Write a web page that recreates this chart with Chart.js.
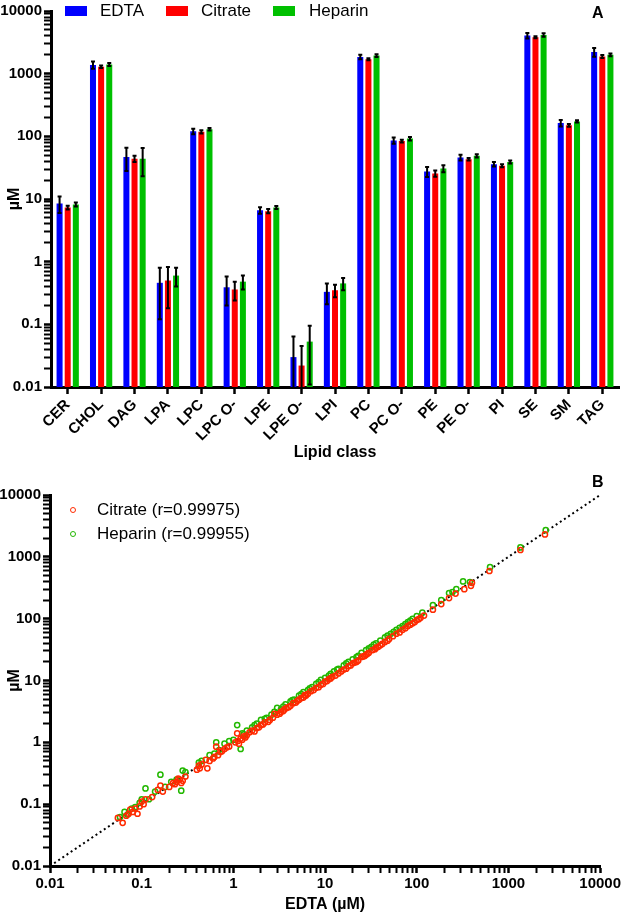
<!DOCTYPE html>
<html>
<head>
<meta charset="utf-8">
<script src="https://cdn.jsdelivr.net/npm/chart.js@4.4.1/dist/chart.umd.min.js"></script>
<style>
  body { margin: 0; background: #fff; font-family: "Liberation Sans", Arial, sans-serif; }
  #wrap { position: relative; width: 623px; height: 914px; background: #fff; overflow: hidden; }
  .box { position: absolute; }
  .leg { position: absolute; font-size: 17px; color: #000; line-height: 20px; white-space: nowrap; }
  .sw { position: absolute; width: 22px; height: 10px; }
  .dot { position: absolute; width: 4px; height: 4px; border-radius: 50%; border: 1.5px solid; }
  .panel { position: absolute; font-weight: bold; font-size: 16px; color: #000; }
</style>
</head>
<body>
<div id="wrap">
  <div class="box" style="left:0;top:0"><canvas id="barChart" width="623" height="470"></canvas></div>
  <div class="box" style="left:0;top:470px"><canvas id="scatterChart" width="623" height="444"></canvas></div>

  <div class="sw" style="left:65px;top:6px;background:#0000ff"></div>
  <div class="leg" style="left:100px;top:1px">EDTA</div>
  <div class="sw" style="left:166px;top:6px;background:#ff0000"></div>
  <div class="leg" style="left:201px;top:1px">Citrate</div>
  <div class="sw" style="left:273px;top:6px;background:#00c000"></div>
  <div class="leg" style="left:309px;top:1px">Heparin</div>
  <div class="panel" style="left:592px;top:4px">A</div>

  <div class="dot" style="left:70px;top:507px;border-color:#ff2a00"></div>
  <div class="leg" style="left:97px;top:500px">Citrate (r=0.99975)</div>
  <div class="dot" style="left:70px;top:531px;border-color:#22b800"></div>
  <div class="leg" style="left:97px;top:524px">Heparin (r=0.99955)</div>
  <div class="panel" style="left:592px;top:473px">B</div>
</div>
<script>
// lipid classes and mean concentrations (µM) per anticoagulant
const lipidClasses = ["CER", "CHOL", "DAG", "LPA", "LPC", "LPC O-", "LPE", "LPE O-", "LPI", "PC", "PC O-", "PE", "PE O-", "PI", "SE", "SM", "TAG"];
const edta    = [8.5, 1380, 47, 0.46, 120, 0.39, 6.6, 0.030, 0.33, 1850, 86, 27.5, 46, 36, 4050, 163, 2210];
const citrate = [7.3, 1290, 44, 0.50, 118, 0.36, 6.4, 0.022, 0.35, 1700, 84, 25.6, 43, 34, 3820, 150, 1880];
const heparin = [8.2, 1400, 44, 0.60, 130, 0.48, 7.3, 0.053, 0.45, 1950, 92, 30.7, 49, 39, 4150, 173, 2000];
// standard deviations
const edtaSd    = [2.5, 180, 19, 0.34, 12, 0.19, 0.8, 0.034, 0.12, 150, 10, 5, 5, 3, 400, 20, 350];
const citrateSd = [0.5, 60, 5, 0.32, 7, 0.12, 0.5, 0.023, 0.08, 70, 4, 3, 2, 2, 150, 8, 100];
const heparinSd = [0.6, 80, 21, 0.20, 6, 0.12, 0.4, 0.042, 0.10, 100, 6, 4, 3, 2, 250, 7, 100];

// log axis ticks
const decades = [0.01, 0.1, 1, 10, 100, 1000, 10000];
const decadeLabels = ["0.01", "0.1", "1", "10", "100", "1000", "10000"];
const minorSteps = [2, 3, 4, 5, 6, 7, 8, 9];

// species concentrations: [EDTA, other anticoagulant]
const citratePoints = [
  [0.055,0.060],[0.062,0.050],[0.068,0.065],[0.072,0.070],[0.075,0.082],[0.08,0.075],[0.085,0.085],[0.09,0.070],
  [0.095,0.092],[0.10,0.11],[0.105,0.10],[0.11,0.12],[0.13,0.13],[0.15,0.17],[0.16,0.20],[0.17,0.16],[0.20,0.19],
  [0.22,0.22],[0.23,0.21],[0.24,0.23],[0.25,0.26],[0.26,0.25],[0.27,0.22],[0.28,0.24],[0.30,0.28],[0.40,0.36],
  [0.42,0.42],[0.43,0.38],[0.45,0.44],[0.50,0.52],[0.52,0.38],[0.55,0.50],[0.60,0.55],[0.62,0.58],[0.65,0.85],
  [0.68,0.62],[0.72,0.70],[0.75,0.72],[0.80,0.78],[0.85,0.83],[0.90,0.86],
  [1.05,1.0],[1.10,1.4],[1.12,1.05],[1.15,0.95],[1.2,1.15],[1.25,1.1],[1.3,1.25],[1.35,1.2],[1.4,1.3],[1.5,1.45],
  [1.6,1.55],[1.7,1.5],[1.8,1.7],[1.9,1.75],[2.0,1.9],[2.1,1.95],[2.2,2.1],[2.4,2.15],[2.5,2.3],[2.7,2.5],[2.8,2.9],
  [3.0,2.8],[3.2,2.9],[3.3,3.1],[3.5,3.2],[3.6,3.4],[3.8,3.6],[4.0,3.7],[4.2,3.9],[4.5,4.3],[4.8,4.4],[5,4.7],
  [5.2,4.9],[5.5,5.2],[5.8,5.3],[6,5.8],[6.2,5.7],[6.5,6.1],[7,6.7],[7.5,7.0],[8,7.6],[8.5,7.8],[9,8.5],[9.5,8.8],
  [10,9.6],[10.5,9.8],[11,10.5],[11.5,10.8],[12,11.5],[13,12],[14,13],[15,14],[16,15],[17,15.5],[18,17],[19,17.5],
  [20,19],[21,19.5],[22,20],[23,21],[25,24],[26,24.5],[27,25],[28,26],[29,27],[30,28],[33,31],[35,32],[36,34],
  [38,35],[40,37],[42,39],[45,42],[48,44],[50,47],[55,52],[60,57],[65,60],[70,66],[75,70],[80,76],[85,80],[90,84],
  [95,88],[100,95],[105,98],[110,103],[120,112],[150,140],[185,172],[225,215],[265,255],[330,300],[390,340],
  [400,380],[620,590],[1350,1290],[2500,2300]
];
const heparinPoints = [
  [0.058,0.062],[0.065,0.075],[0.07,0.068],[0.078,0.085],[0.085,0.09],[0.095,0.105],[0.10,0.12],[0.11,0.18],
  [0.12,0.12],[0.14,0.16],[0.16,0.30],[0.18,0.19],[0.21,0.23],[0.24,0.25],[0.27,0.165],[0.28,0.35],[0.30,0.33],
  [0.42,0.47],[0.45,0.50],[0.55,0.62],[0.62,0.66],[0.65,1.0],[0.70,0.75],[0.80,0.95],[0.90,1.05],[1.0,1.1],
  [1.1,1.9],[1.2,0.78],[1.25,1.4],[1.3,1.35],[1.4,1.55],[1.6,1.75],[1.7,1.9],[1.8,2.0],[2.0,2.3],[2.2,2.4],
  [2.3,2.5],[2.6,2.8],[2.8,3.1],[3.0,3.6],[3.3,3.4],[3.5,3.8],[3.7,4.1],[4.2,4.6],[4.4,4.8],[4.6,4.9],[5.2,5.7],
  [5.5,6.0],[5.8,6.5],[6.5,7.0],[6.8,7.5],[7.2,7.8],[8,8.8],[8.5,9.4],[9,10.2],[10,11],[11,12],[11.5,12.8],
  [12.5,14],[13.5,15],[14,15.5],[16,17.5],[17,19],[18,20],[20,22],[22,24],[23,25],[25,28],[28,31],[30,33],[32,35],
  [34,38],[36,40],[40,44],[45,50],[48,53],[52,57],[56,61],[60,66],[65,71],[70,76],[75,82],[80,88],[85,93],[90,99],
  [100,110],[115,125],[150,165],[185,200],[225,260],[245,270],[270,300],[320,400],[380,390],[630,680],[1350,1420],
  [2550,2700]
];
const identityLine = [0.01, 10000];

const FONT = "'Liberation Sans', Arial, sans-serif";
Chart.defaults.font.family = FONT;
Chart.defaults.color = "#000";

function logTicks() {
  const out = [];
  decades.forEach((d, k) => {
    out.push({ value: d, major: true });
    if (k < decades.length - 1) {
      minorSteps.forEach((m) => out.push({ value: d * m, major: false }));
    }
  });
  return out;
}

function labelFor(value) {
  const k = decades.findIndex((d) => Math.abs(d - value) / d < 1e-6);
  return k >= 0 ? decadeLabels[k] : "";
}

function logAxis(width, title, titlePad) {
  return {
    type: "logarithmic",
    min: 0.01,
    max: 10000,
    afterBuildTicks: (scale) => { scale.ticks = logTicks(); },
    afterFit: (scale) => { scale.width = width; },
    border: { color: "#000", width: 3 },
    grid: {
      display: true,
      drawOnChartArea: false,
      drawTicks: true,
      tickLength: 7,
      tickColor: "#000",
      tickWidth: (ctx) => (ctx.tick && ctx.tick.major ? 2.5 : 2),
    },
    ticks: {
      autoSkip: false,
      minRotation: 0,
      maxRotation: 0,
      padding: 2,
      font: { size: 15, weight: "bold" },
      callback: (value, index, ticks) => (ticks[index].major ? labelFor(value) : ""),
    },
    title: { display: true, text: title, font: { size: 16, weight: "bold" }, padding: titlePad },
  };
}

const errorBars = {
  id: "errorBars",
  afterDatasetsDraw(chart) {
    const ctx = chart.ctx;
    const y = chart.scales.y;
    ctx.save();
    ctx.strokeStyle = "#000";
    ctx.lineWidth = 2;
    chart.data.datasets.forEach((ds, i) => {
      const meta = chart.getDatasetMeta(i);
      meta.data.forEach((bar, j) => {
        const v = ds.data[j];
        const e = ds.sd[j];
        const top = y.getPixelForValue(v + e);
        const lowVal = v - e;
        const bottom = lowVal > y.min ? y.getPixelForValue(lowVal) : y.bottom;
        ctx.beginPath();
        ctx.moveTo(bar.x, top);
        ctx.lineTo(bar.x, bottom);
        ctx.moveTo(bar.x - 2, top);
        ctx.lineTo(bar.x + 2, top);
        if (lowVal > y.min) {
          ctx.moveTo(bar.x - 2, bottom);
          ctx.lineTo(bar.x + 2, bottom);
        }
        ctx.stroke();
      });
    });
    ctx.restore();
  },
};

new Chart(document.getElementById("barChart"), {
  type: "bar",
  data: {
    labels: lipidClasses,
    datasets: [
      { label: "EDTA", data: edta, sd: edtaSd, backgroundColor: "#0000ff" },
      { label: "Citrate", data: citrate, sd: citrateSd, backgroundColor: "#ff0000" },
      { label: "Heparin", data: heparin, sd: heparinSd, backgroundColor: "#00c000" },
    ],
  },
  options: {
    responsive: false,
    animation: false,
    layout: { padding: { top: 7, right: 4, left: 0, bottom: 0 } },
    datasets: { bar: { categoryPercentage: 0.73, barPercentage: 0.74 } },
    plugins: { legend: { display: false }, tooltip: { enabled: false } },
    scales: {
      x: {
        afterFit: (scale) => { scale.height = 83; },
        border: { color: "#000", width: 3 },
        grid: { display: true, drawOnChartArea: false, offset: false, tickLength: 7, tickColor: "#000", tickWidth: 2.5 },
        ticks: { autoSkip: false, minRotation: 45, maxRotation: 45, padding: 2, font: { size: 15, weight: "bold" } },
        title: { display: true, text: "Lipid class", font: { size: 16, weight: "bold" }, padding: { top: 0, bottom: 8 } },
      },
      y: logAxis(51, "µM", { top: 5, bottom: 0 }),
    },
  },
  plugins: [errorBars],
});

const toXY = (p) => ({ x: p[0], y: p[1] });

new Chart(document.getElementById("scatterChart"), {
  type: "scatter",
  data: {
    datasets: [
      {
        label: "Citrate (r=0.99975)",
        data: citratePoints.map(toXY),
        pointStyle: "circle",
        pointRadius: 2.6,
        pointBorderWidth: 1.5,
        borderColor: "#ff2a00",
        backgroundColor: "rgba(0,0,0,0)",
      },
      {
        label: "Heparin (r=0.99955)",
        data: heparinPoints.map(toXY),
        pointStyle: "circle",
        pointRadius: 2.6,
        pointBorderWidth: 1.5,
        borderColor: "#22b800",
        backgroundColor: "rgba(0,0,0,0)",
      },
      {
        type: "line",
        label: "identity",
        data: identityLine.map((v) => ({ x: v, y: v })),
        borderColor: "#000",
        borderWidth: 2,
        borderDash: [2, 3],
        pointRadius: 0,
        fill: false,
      },
    ],
  },
  options: {
    responsive: false,
    animation: false,
    layout: { padding: { top: 25, right: 21, left: 0, bottom: 0 } },
    plugins: { legend: { display: false }, tooltip: { enabled: false } },
    scales: {
      x: Object.assign(logAxis(0, "EDTA (µM)", { top: 0, bottom: 0 }), {
        afterFit: (scale) => { scale.height = 48; },
      }),
      y: logAxis(50, "µM", { top: 5, bottom: 0 }),
    },
  },
});
</script>
</body>
</html>
